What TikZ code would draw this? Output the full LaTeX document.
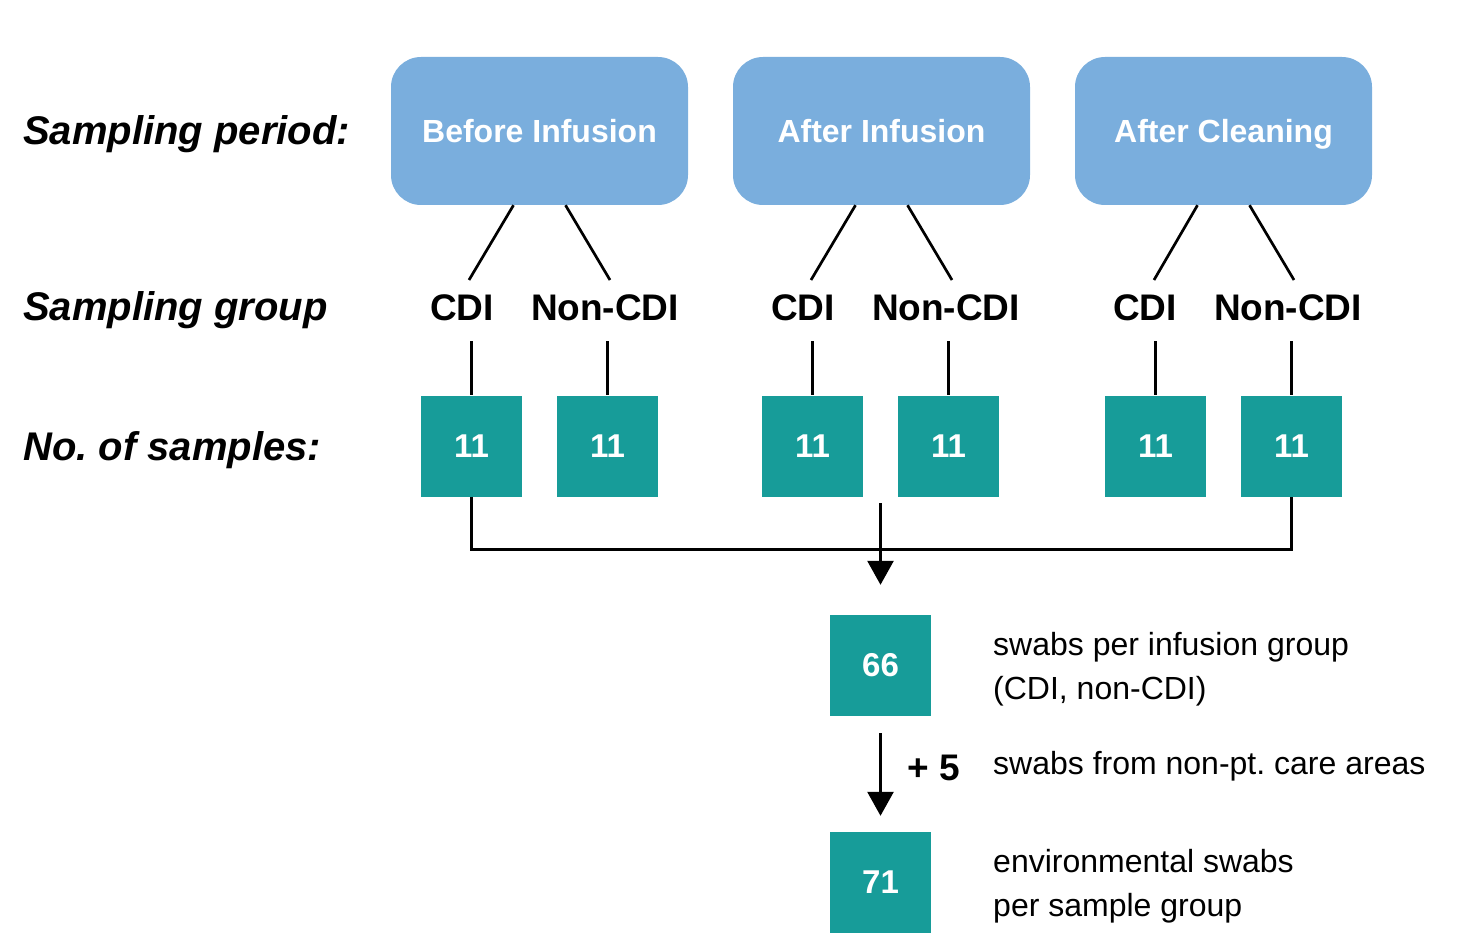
\documentclass[tikz,border=0pt]{standalone}
\usepackage{fontspec}
\setmainfont{Liberation Sans}
\usetikzlibrary{arrows.meta,calc}
\definecolor{boxblue}{RGB}{122,174,221}
\definecolor{myteal}{RGB}{23,156,153}
\frenchspacing
\begin{document}
\begin{tikzpicture}[x=1pt,y=-1pt,
  period/.style={fill=boxblue, rounded corners=30pt, minimum width=297pt, minimum height=148pt, text=white, font=\fontsize{32}{38}\selectfont\bfseries, inner sep=0pt, text height=23pt, text depth=0pt},
  count/.style={fill=myteal, minimum size=101pt, inner sep=0pt, text=white, font=\fontsize{33}{40}\selectfont\bfseries},
  group/.style={font=\fontsize{37}{44}\selectfont\bfseries, inner sep=0pt, anchor=base},
  rowlabel/.style={font=\fontsize{40}{48}\selectfont\bfseries\itshape, anchor=base west, inner sep=0pt},
  note/.style={font=\fontsize{32}{44}\selectfont, anchor=base west, inner sep=0pt},
  link/.style={line width=2.7pt},
  flow/.style={line width=2.7pt, -{Triangle[width=26pt,length=24pt]}}]
\useasboundingbox (0,0) rectangle (1481,952);

% row labels
\node[rowlabel] (lp) at (23,145) {Sampling period:};
\node[rowlabel] (lg) at (23,320) {Sampling group};
\node[rowlabel] (ln) at (23,460) {No. of samples:};

% periods
\node[period] (p1) at (539.5,131) {Before Infusion};
\node[period] (p2) at (881.5,131) {After Infusion};
\node[period] (p3) at (1223.5,131) {After Cleaning};

% groups
\node[group] (g1) at (462,320) {CDI};
\node[group] (g2) at (605,320) {Non-CDI};
\node[group] (g3) at (803,320) {CDI};
\node[group] (g4) at (946,320) {Non-CDI};
\node[group] (g5) at (1145,320) {CDI};
\node[group] (g6) at (1288,320) {Non-CDI};

% counts
\node[count] (s1) at (471.5,446) {11};
\node[count] (s2) at (607.5,446) {11};
\node[count] (s3) at (812.5,446) {11};
\node[count] (s4) at (948.5,446) {11};
\node[count] (s5) at (1155.5,446) {11};
\node[count] (s6) at (1291.5,446) {11};

% tree lines period -> group
\foreach \p/\a/\b/\la/\lb in {p1/469/610/1/2, p2/811/952/3/4, p3/1154/1294/5/6}{
  \coordinate (e\la) at (\a,280);
  \coordinate (e\lb) at (\b,280);
  \draw[link] ([xshift=-26pt]\p.south) -- (e\la);
  \draw[link] ([xshift=26pt]\p.south) -- (e\lb);
}

% group -> count
\foreach \i in {1,...,6}{
  \coordinate (t\i) at ($(s\i.north)+(0,-54)$);
  \draw[link] (t\i) -- (s\i.north);
}

% bracket
\draw[link] (s1.south) -- ++(0,53) -| (s6.south);

% totals
\node[count] (n66) at (880.5,665.5) {66};
\node[count] (n71) at (880.5,882.5) {71};

\coordinate (arrstart) at (880.5,503);
\draw[flow] (arrstart) -- ([yshift=30pt]n66.north);
\draw[flow] ([yshift=-17pt]n66.south) -- ([yshift=16pt]n71.north);

\node[font=\fontsize{37}{44}\selectfont\bfseries, anchor=base west, inner sep=0pt] (plus) at (907,780) {+ 5};

% notes
\node[note] (a1) at (993,655) {swabs per infusion group};
\node[note] (a2) at (993,699) {(CDI, non-CDI)};
\node[note] (b1) at (993,774) {swabs from non-pt. care areas};
\node[note] (c1) at (993,872) {environmental swabs};
\node[note] (c2) at (993,916) {per sample group};
\end{tikzpicture}
\end{document}
